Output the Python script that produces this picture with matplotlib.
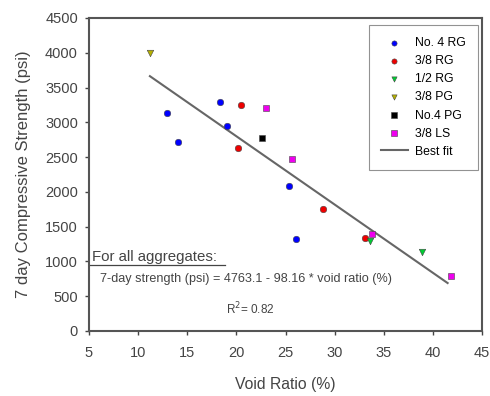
import numpy as np
import matplotlib.pyplot as plt

plt.rcParams["font.family"] = ["Liberation Sans", "DejaVu Sans"]

# values
no4_rg_x = [12.9, 14.1, 18.3, 19.0, 25.4, 26.1]
no4_rg_y = [3130, 2720, 3290, 2950, 2090, 1320]
rg38_x = [20.5, 20.2, 28.8, 33.1]
rg38_y = [3250, 2630, 1760, 1340]
rg12_x = [33.6, 38.9]
rg12_y = [1300, 1140]
pg38_x = [11.2]
pg38_y = [4000]
no4_pg_x = [22.6]
no4_pg_y = [2770]
ls38_x = [23.0, 25.7, 33.8, 41.8]
ls38_y = [3200, 2470, 1390, 790]

fit_intercept = 4763.1
fit_slope = -98.16
fit_range = [11.2, 41.5]

series = [
    ("No. 4 RG", no4_rg_x, no4_rg_y, "#0000ff", "o"),
    ("3/8 RG", rg38_x, rg38_y, "#ee0000", "o"),
    ("1/2 RG", rg12_x, rg12_y, "#00cc33", "v"),
    ("3/8 PG", pg38_x, pg38_y, "#b5b000", "v"),
    ("No.4 PG", no4_pg_x, no4_pg_y, "#000000", "s"),
    ("3/8 LS", ls38_x, ls38_y, "#ee00ee", "s"),
]

txt = "#444444"

fig = plt.figure(figsize=(4.9, 3.96), dpi=100)
ax = fig.add_axes([89 / 490, 1 - 331 / 396, 393 / 490, 313 / 396])

for name, xs, ys, color, marker in series:
    ax.scatter(xs, ys, s=22, c=color, marker=marker, edgecolors="#444444",
               linewidths=0.4, label=name, zorder=3)

fx = np.array(fit_range)
ax.plot(fx, fit_intercept + fit_slope * fx, color="#666666", lw=1.5,
        label="Best fit", zorder=2)

ax.set_xlim(5, 45)
ax.set_ylim(0, 4500)
ax.set_xticks(range(5, 50, 5))
ax.set_yticks(range(0, 5000, 500))
ax.tick_params(labelsize=10.5, colors=txt, length=3, width=1,
               direction="out")
ax.tick_params(axis="x", pad=8)
ax.tick_params(axis="y", pad=5)
for sp in ax.spines.values():
    sp.set_color("#555555")
    sp.set_linewidth(1.5)

ax.set_xlabel("Void Ratio (%)", fontsize=11.3, color=txt, labelpad=12)
ax.set_ylabel("7 day Compressive Strength (psi)", fontsize=12,
              color=txt, labelpad=10)

ax.text(5.3, 1070, "For all aggregates:", fontsize=10.8, color=txt,
        va="center")
ax.plot([5, 18.8], [945, 945], color="#444444", lw=0.9)
ax.text(21, 745, "7-day strength (psi) = 4763.1 - 98.16 * void ratio (%)",
        fontsize=9.1, color=txt, ha="center", va="center")
ax.text(21.4, 320, "R$^2$= 0.82", fontsize=8.5, color=txt,
        ha="center", va="center")

leg = ax.legend(loc="upper right", bbox_to_anchor=(0.99, 0.978),
                borderaxespad=0, fontsize=8.8, frameon=True, fancybox=False,
                markerscale=0.8, handlelength=2.2, labelspacing=0.5,
                borderpad=1.0, handletextpad=0.6)
leg.get_frame().set_edgecolor("#777777")
leg.get_frame().set_linewidth(0.8)

fig.savefig("out.png", dpi=100)
